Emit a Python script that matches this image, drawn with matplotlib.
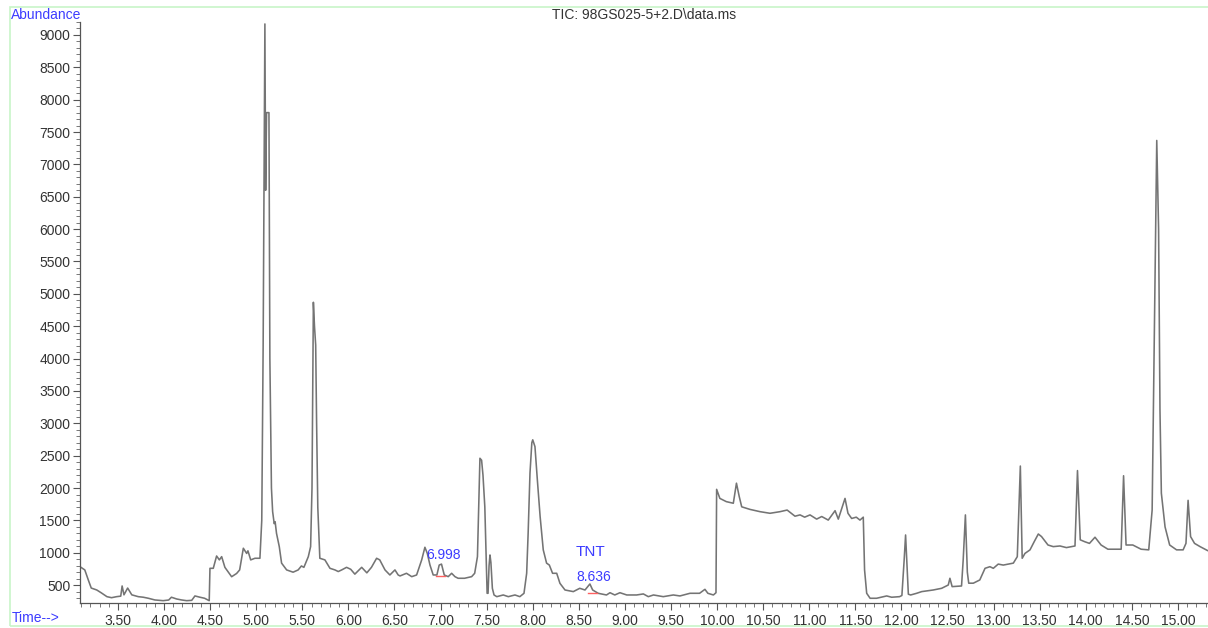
import matplotlib
matplotlib.use('Agg')
import matplotlib.pyplot as plt
from matplotlib.ticker import MultipleLocator, FormatStrFormatter
from matplotlib.patches import Rectangle

# ------------------------------------------------------------------
# data (time in min, abundance)
# ------------------------------------------------------------------
time_min = [
    3.088, 3.14, 3.178, 3.21, 3.27, 3.32, 3.38, 3.43, 3.486, 3.53, 3.545, 3.565,
    3.605, 3.65, 3.72, 3.775, 3.83, 3.90, 3.99, 4.05, 4.08, 4.137, 4.19, 4.245,
    4.30, 4.335, 4.39, 4.44, 4.49, 4.498, 4.534, 4.57, 4.60, 4.625, 4.66, 4.733,
    4.787, 4.82, 4.86, 4.896, 4.91, 4.94, 4.986, 5.04, 5.06, 5.075, 5.094, 5.102,
    5.112, 5.138, 5.148, 5.165, 5.178, 5.195, 5.205, 5.22, 5.25, 5.275, 5.33, 5.40,
    5.455, 5.49, 5.517, 5.565, 5.59, 5.605, 5.62, 5.632, 5.645, 5.655, 5.668, 5.69,
    5.745, 5.80, 5.854, 5.89, 5.927, 5.98, 6.025, 6.07, 6.144, 6.20, 6.25, 6.306,
    6.34, 6.397, 6.45, 6.505, 6.54, 6.56, 6.63, 6.687, 6.74, 6.795, 6.83, 6.856,
    6.885, 6.92, 6.96, 6.985, 7.01, 7.04, 7.083, 7.12, 7.156, 7.19, 7.26, 7.337,
    7.37, 7.40, 7.415, 7.427, 7.445, 7.46, 7.48, 7.495, 7.505, 7.515, 7.526, 7.536,
    7.546, 7.562, 7.58, 7.61, 7.68, 7.735, 7.807, 7.86, 7.905, 7.934, 7.95, 7.97,
    7.99, 8.00, 8.024, 8.05, 8.08, 8.114, 8.15, 8.18, 8.215, 8.26, 8.295, 8.35,
    8.44, 8.51, 8.567, 8.62, 8.65, 8.71, 8.80, 8.838, 8.89, 8.946, 9.02, 9.127,
    9.20, 9.254, 9.31, 9.416, 9.525, 9.597, 9.706, 9.81, 9.868, 9.90, 9.96, 9.988,
    9.995, 10.03, 10.10, 10.176, 10.21, 10.24, 10.267, 10.357, 10.466, 10.574, 10.683, 10.76,
    10.845, 10.90, 10.95, 11.008, 11.08, 11.135, 11.206, 11.28, 11.315, 11.388, 11.42, 11.46,
    11.51, 11.55, 11.586, 11.60, 11.623, 11.66, 11.73, 11.84, 11.894, 11.98, 12.005, 12.03,
    12.045, 12.06, 12.075, 12.10, 12.165, 12.22, 12.345, 12.436, 12.508, 12.526, 12.55, 12.652,
    12.67, 12.694, 12.715, 12.73, 12.78, 12.85, 12.907, 12.96, 12.997, 13.05, 13.105, 13.214,
    13.257, 13.29, 13.31, 13.34, 13.395, 13.44, 13.485, 13.52, 13.59, 13.647, 13.72, 13.79,
    13.883, 13.91, 13.94, 13.99, 14.04, 14.10, 14.166, 14.24, 14.31, 14.384, 14.41, 14.437,
    14.51, 14.60, 14.683, 14.72, 14.745, 14.77, 14.79, 14.805, 14.82, 14.86, 14.91, 14.985,
    15.056, 15.087, 15.11, 15.137, 15.18, 15.24, 15.32,
]
abundance = [
    785, 735, 580, 455, 425, 380, 322, 306, 322, 330, 487, 350,
    455, 350, 322, 313, 297, 271, 260, 270, 313, 286, 271, 260,
    265, 333, 313, 297, 260, 760, 760, 950, 890, 940, 775, 630,
    680, 735, 1070, 990, 1030, 890, 915, 915, 1500, 4200, 9170, 6600,
    7800, 7800, 4000, 2000, 1635, 1450, 1480, 1300, 1095, 840, 735, 700,
    735, 796, 775, 940, 1095, 2000, 4870, 4500, 4210, 3000, 1700, 915,
    890, 760, 735, 710, 735, 775, 745, 670, 775, 690, 775, 915,
    890, 735, 657, 735, 657, 642, 683, 631, 657, 890, 1085, 990,
    810, 657, 657, 810, 825, 657, 631, 683, 631, 606, 606, 631,
    683, 940, 1800, 2460, 2430, 2200, 1710, 900, 374, 374, 800, 966,
    850, 450, 348, 322, 348, 322, 348, 322, 374, 683, 1300, 2230,
    2700, 2745, 2640, 2125, 1560, 1045, 840, 810, 683, 683, 528, 425,
    400, 451, 425, 518, 425, 374, 348, 383, 348, 383, 348, 348,
    364, 322, 348, 322, 348, 333, 374, 374, 435, 374, 348, 383,
    1980, 1840, 1790, 1765, 2075, 1870, 1710, 1670, 1635, 1610, 1635, 1660,
    1565, 1585, 1550, 1585, 1520, 1560, 1505, 1650, 1520, 1840, 1610, 1530,
    1550, 1505, 1550, 735, 374, 297, 297, 333, 313, 322, 340, 900,
    1275, 800, 360, 348, 374, 400, 425, 451, 502, 606, 477, 487,
    890, 1585, 700, 530, 530, 580, 760, 785, 760, 825, 810, 840,
    940, 2340, 915, 990, 1045, 1170, 1290, 1250, 1120, 1095, 1105, 1080,
    1105, 2270, 1200, 1170, 1145, 1240, 1120, 1055, 1055, 1055, 2190, 1120,
    1120, 1055, 1045, 1660, 4500, 7370, 6000, 3200, 1920, 1400, 1120, 1045,
    1045, 1145, 1810, 1250, 1145, 1095, 1035,
]

# integrated peaks: label, label position, baseline segment
peak_labels = ['6.998', '8.636']
peak_label_t = [6.842, 8.469]
peak_label_a = [966, 626]
baseline_t = [(6.95, 7.05), (8.60, 8.70)]
baseline_a = [(640, 640), (383, 383)]
name_label = 'TNT'
name_label_t = 8.469
name_label_a = 1012

title = 'TIC: 98GS025-5+2.D\\data.ms'

BLUE = '#3c3cff'
TRACE = '#747474'
TXT = '#333333'

plt.rcParams['font.family'] = ['Liberation Sans', 'DejaVu Sans']

W, H = 1208, 628
fig = plt.figure(figsize=(W / 100, H / 100), dpi=100)
ax = fig.add_axes([80 / W, 25 / H, 1128 / W, 581 / H])

ax.plot(time_min, abundance, color=TRACE, lw=1.15)

for (t0, t1), (a0, a1) in zip(baseline_t, baseline_a):
    ax.plot([t0, t1], [a0, a1], color='#ff6060', lw=1.0)
for lab, t, a in zip(peak_labels, peak_label_t, peak_label_a):
    ax.text(t, a, lab, color=BLUE, fontsize=10, ha='left', va='center')
ax.text(name_label_t, name_label_a, name_label, color=BLUE, fontsize=11,
        ha='left', va='center')

ax.set_xlim(3.088, 15.326)
ax.set_ylim(224, 9200)

ax.xaxis.set_major_locator(MultipleLocator(0.5))
ax.xaxis.set_minor_locator(MultipleLocator(0.1))
ax.xaxis.set_major_formatter(FormatStrFormatter('%.2f'))
ax.yaxis.set_major_locator(MultipleLocator(500))
ax.yaxis.set_minor_locator(MultipleLocator(100))

for s in ['top', 'right']:
    ax.spines[s].set_visible(False)
for s in ['left', 'bottom']:
    ax.spines[s].set_color('#555555')
    ax.spines[s].set_linewidth(0.9)

ax.tick_params(axis='both', which='major', direction='out', length=5,
               width=0.8, colors='#555555', labelcolor=TXT, labelsize=10)
ax.tick_params(axis='both', which='minor', direction='out', length=3,
               width=0.7, colors='#777777')
ax.tick_params(axis='x', which='major', pad=3)
ax.tick_params(axis='y', which='major', pad=2)

# light green frame around the whole report panel
fig.patches.append(Rectangle((10 / W, 2 / H), 1.0, 619 / H,
                             transform=fig.transFigure, fill=False,
                             edgecolor='#c8f5c8', lw=1.2))

fig.text(11 / W, 1 - 15 / H, 'Abundance', color=BLUE, fontsize=10,
         ha='left', va='center')
fig.text(12 / W, 1 - 618 / H, 'Time-->', color=BLUE, fontsize=10,
         ha='left', va='center')
fig.text(644 / W, 1 - 15 / H, title, color=TXT, fontsize=10,
         ha='center', va='center')

fig.savefig('out.png', dpi=100)
